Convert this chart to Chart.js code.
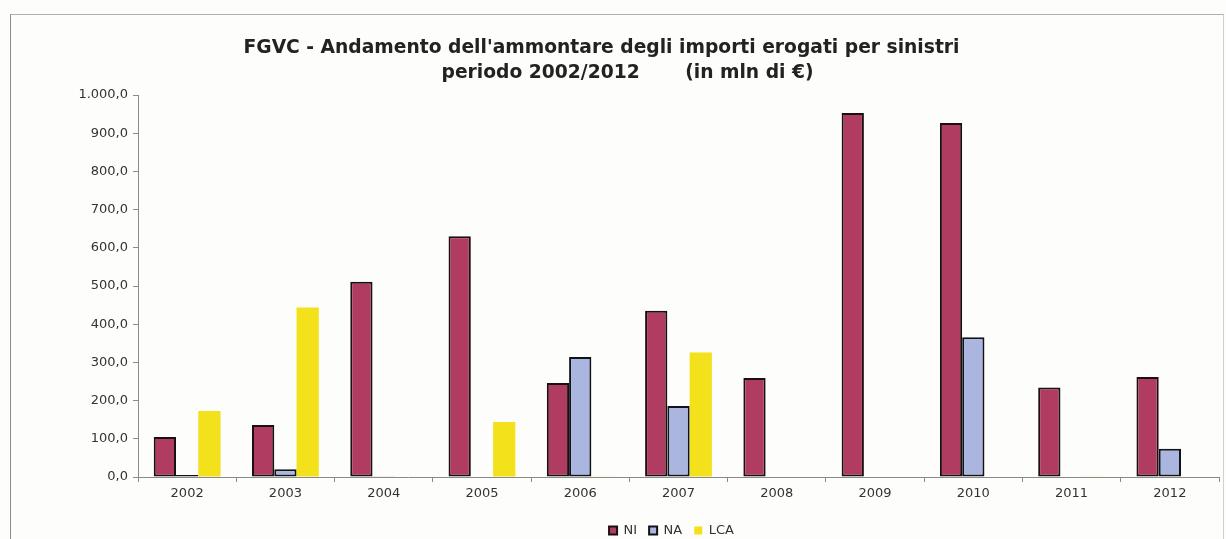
<!DOCTYPE html>
<html lang="it">
<head>
    <meta charset="UTF-8">
    <title>FGVC - importi erogati per sinistri</title>
    <style>
        body {
            margin: 0;
            background-color: #fdfdfb;
        }
        .frame {
            position: absolute;
            left: 10px;
            top: 14px;
            width: 1212px;
            height: 540px;
            border-left: 1px solid #8c8c8c;
            border-top: 1px solid #b0b0b0;
            border-right: 1px solid #d0d0d0;
        }
        .chart-box {
            position: absolute;
            left: 0;
            top: 0;
            width: 1226px;
            height: 539px;
        }
    </style>
</head>
<body>
    <div class="frame"></div>
    <div class="chart-box">
        <canvas id="barChart" width="1226" height="539"></canvas>
    </div>

    <script src="https://cdn.jsdelivr.net/npm/chart.js"></script>
    <script>
        const years = ['2002', '2003', '2004', '2005', '2006', '2007', '2008', '2009', '2010', '2011', '2012'];
        const niValues = [105, 136, 511, 630, 246, 435, 259, 953, 927, 234, 262];
        const naValues = [5, 20, 2, 0, 314, 186, 0, 0, 366, 0, 74];
        const lcaValues = [173, 444, 0, 144, 1, 326, 0, 0, 0, 1, 0];
        const yTicks = [0, 100, 200, 300, 400, 500, 600, 700, 800, 900, 1000];

        const titleLines = [
            "FGVC - Andamento dell'ammontare degli importi erogati per sinistri    ",
            "    periodo 2002/2012       (in mln di €)"
        ];

        const axisColor = '#8a8a8a';
        const textColor = '#333333';
        const fontFamily = '"DejaVu Sans", Arial, sans-serif';

        // italian number format, e.g. 1.000,0
        function fmt(v) {
            return v.toLocaleString('it-IT', { minimumFractionDigits: 1, maximumFractionDigits: 1 });
        }

        // legend sits under the plot area, a bit lower than chart.js puts it
        const shiftLegend = {
            id: 'shiftLegend',
            afterLayout(chart) {
                const lg = chart.legend;
                lg.left += 57;
                lg.right += 57;
                lg.top += 8;
                lg.bottom += 8;
            }
        };

        const ctx = document.getElementById('barChart').getContext('2d');
        new Chart(ctx, {
            type: 'bar',
            data: {
                labels: years,
                datasets: [
                    { label: 'NI', data: niValues, backgroundColor: '#b03c62', borderColor: '#1a1010', borderWidth: 2, borderSkipped: false },
                    { label: 'NA', data: naValues, backgroundColor: '#aab6e0', borderColor: '#10121a', borderWidth: 2, borderSkipped: false },
                    { label: 'LCA', data: lcaValues, backgroundColor: '#f3e11c', borderWidth: 0 }
                ]
            },
            options: {
                responsive: false,
                animation: false,
                datasets: { bar: { categoryPercentage: 0.68, barPercentage: 1.0 } },
                layout: { padding: { left: 10, right: 7, top: 36, bottom: 0 } },
                plugins: {
                    title: {
                        display: true,
                        text: titleLines,
                        color: '#222222',
                        font: { family: fontFamily, size: 18.7, weight: 'bold', lineHeight: 1.337 },
                        padding: { top: 0, bottom: 9 }
                    },
                    legend: {
                        position: 'bottom',
                        labels: {
                            color: textColor,
                            font: { family: fontFamily, size: 13 },
                            boxWidth: 8,
                            boxHeight: 8,
                            padding: 12
                        }
                    },
                    tooltip: { enabled: false }
                },
                scales: {
                    x: {
                        afterFit: s => { s.height = 27; },
                        grid: { display: true, drawOnChartArea: false, drawTicks: true, tickLength: 5, color: axisColor, offset: true },
                        border: { display: true, color: axisColor, width: 1 },
                        ticks: { color: textColor, font: { family: fontFamily, size: 13 }, padding: 4, maxRotation: 0 }
                    },
                    y: {
                        min: 0,
                        max: 1000,
                        afterFit: s => { s.width = 128; },
                        afterBuildTicks: s => { s.ticks = yTicks.map(v => ({ value: v })); },
                        grid: { display: true, drawOnChartArea: false, drawTicks: true, tickLength: 5, color: axisColor },
                        border: { display: true, color: axisColor, width: 1 },
                        ticks: { color: textColor, font: { family: fontFamily, size: 13 }, padding: 5, callback: v => fmt(v) }
                    }
                }
            },
            plugins: [shiftLegend]
        });
    </script>
</body>
</html>
